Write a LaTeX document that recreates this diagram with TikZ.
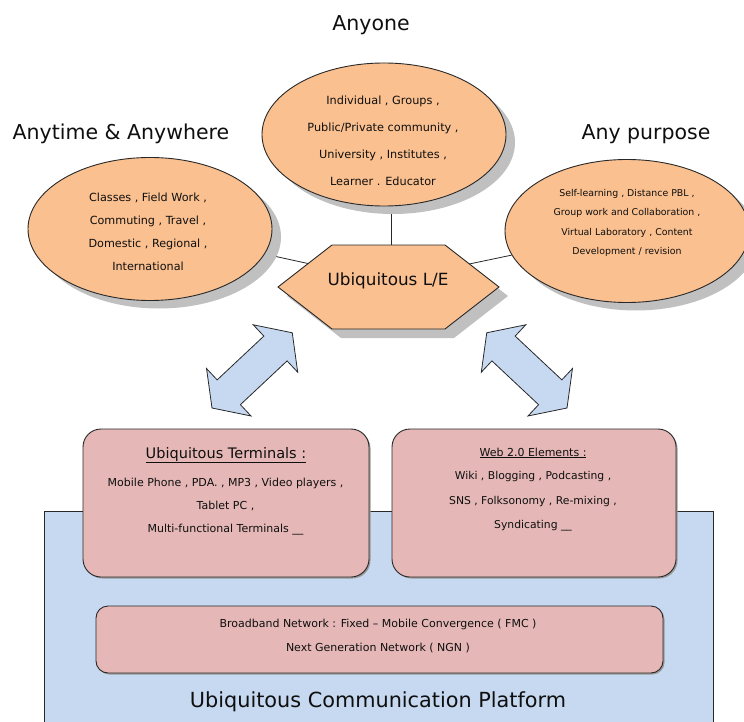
\documentclass[tikz,border=0pt]{standalone}
\usepackage{fontspec}
\setmainfont{DejaVu Sans}
\usetikzlibrary{shapes.geometric,shadows,backgrounds}

\definecolor{peach}{RGB}{250,192,144}
\definecolor{rose}{RGB}{229,184,183}
\definecolor{skyblue}{RGB}{198,217,241}
\definecolor{inkc}{RGB}{15,15,15}
\definecolor{edgec}{RGB}{40,40,40}
\definecolor{shadec}{RGB}{192,192,192}

\begin{document}
\begin{tikzpicture}[x=1pt,y=1pt,
  oval/.style={ellipse, draw=edgec, fill=peach, line width=0.9pt,
    minimum width=244pt, minimum height=143pt, inner sep=0pt,
    drop shadow={shadow xshift=9pt, shadow yshift=-8pt, fill=shadec, opacity=1}},
  hexbody/.style={draw=edgec, fill=peach, line width=0.9pt, line join=miter,
    drop shadow={shadow xshift=9pt, shadow yshift=-9pt, fill=shadec, opacity=1}},
  txt/.style={text=inkc, align=center, inner sep=0pt},
  title/.style={text=inkc, inner sep=0pt, font=\fontsize{20.5}{24}\selectfont},
  card/.style={rectangle, rounded corners=18pt, draw=edgec, fill=rose, line width=0.9pt,
    inner sep=0pt,
    drop shadow={shadow xshift=1.5pt, shadow yshift=-1.5pt, fill=black!40, opacity=1}},
  platform/.style={rectangle, draw=edgec, fill=skyblue, line width=1pt, inner sep=0pt},
  twoway/.style={draw=edgec, fill=skyblue, line width=0.8pt, line join=miter},
  link/.style={draw=edgec, line width=0.8pt},
]
\useasboundingbox (0,0) rectangle (744,-722);
\clip (0,0) rectangle (744,-722);

% platform underneath everything
\node[platform, minimum width=669pt, minimum height=229pt] (platform) at (378.5,-625.5) {};

% headings
\node[title] (anyone) at (371,-25) {Anyone};
\node[title] (anytime) at (121,-134) {Anytime \& Anywhere};
\node[title] (anypurpose) at (646,-134) {Any purpose};

% the three ovals
\node[oval] (who) at (384,-134.5) {};
\node[oval] (where) at (150,-229) {};
\node[oval] (why) at (627,-231) {};

\node[txt, font=\fontsize{11.3}{27}\selectfont] (whotext) at (383,-140.5)
  {Individual , Groups ,\\Public/Private community ,\\University , Institutes ,\\Learner . Educator};
\node[txt, font=\fontsize{11.2}{23}\selectfont] (wheretext) at (148,-231.5)
  {Classes , Field Work ,\\Commuting , Travel ,\\Domestic , Regional ,\\International};
\node[txt, font=\fontsize{9.4}{19.5}\selectfont] (whytext) at (627,-223)
  {Self-learning , Distance PBL ,\\Group work and Collaboration ,\\Virtual Laboratory , Content\\Development / revision};

% central hexagon
\path[hexbody] (278,-287) -- (332,-245) -- (445,-245) -- (499,-287)
  -- (445,-329) -- (332,-329) -- cycle;
\node[txt, font=\fontsize{16.8}{20}\selectfont] (hexlabel) at (388,-281) {Ubiquitous L/E};
\coordinate (hextop) at (391,-245);

% links between the ovals and the hexagon
\begin{scope}[on background layer]
  \draw[link] (where) -- (hexlabel);
  \draw[link] (why) -- (hexlabel);
  \draw[link] (hextop) -- (hextop |- who.center);
\end{scope}

% double-headed block arrows
\path[twoway, shift={(212,-408)}, rotate=43.15]
  (0,0) -- (23,32.5) -- (23,17) -- (87,17) -- (87,32.5) -- (110,0)
  -- (87,-32.5) -- (87,-17) -- (23,-17) -- (23,-32.5) -- cycle;
\path[twoway, shift={(567,-408)}, rotate=136.85]
  (0,0) -- (23,32.5) -- (23,17) -- (87,17) -- (87,32.5) -- (110,0)
  -- (87,-32.5) -- (87,-17) -- (23,-17) -- (23,-32.5) -- cycle;

% terminal and web cards
\node[card, minimum width=286pt, minimum height=148pt] (terminals) at (226,-503) {};
\node[card, minimum width=284pt, minimum height=148pt] (web) at (534,-503) {};
\node[card, rounded corners=12pt, minimum width=567pt, minimum height=67pt] (broadband) at (379.5,-639.5) {};

\node[txt, font=\fontsize{14.5}{17}\selectfont] (termhead) at (226,-455) {\underline{Ubiquitous Terminals :}};
\node[txt, font=\fontsize{11}{23}\selectfont] (termbody) at (225.5,-507)
  {Mobile Phone , PDA. , MP3 , Video players ,\\Tablet PC ,\\Multi-functional Terminals \_\_};

\node[txt, font=\fontsize{11}{13}\selectfont] (webhead) at (533,-453) {\underline{Web 2.0 Elements :}};
\node[txt, font=\fontsize{10.8}{24.5}\selectfont] (webbody) at (533,-501.5)
  {Wiki , Blogging , Podcasting ,\\SNS , Folksonomy , Re-mixing ,\\Syndicating \_\_};

\node[txt, font=\fontsize{11}{24}\selectfont] (bbtext) at (378,-636)
  {Broadband Network : Fixed \textendash{} Mobile Convergence ( FMC )\\Next Generation Network ( NGN )};

\node[txt, font=\fontsize{20.8}{24}\selectfont] (platformtitle) at (378,-702) {Ubiquitous Communication Platform};
\end{tikzpicture}
\end{document}
